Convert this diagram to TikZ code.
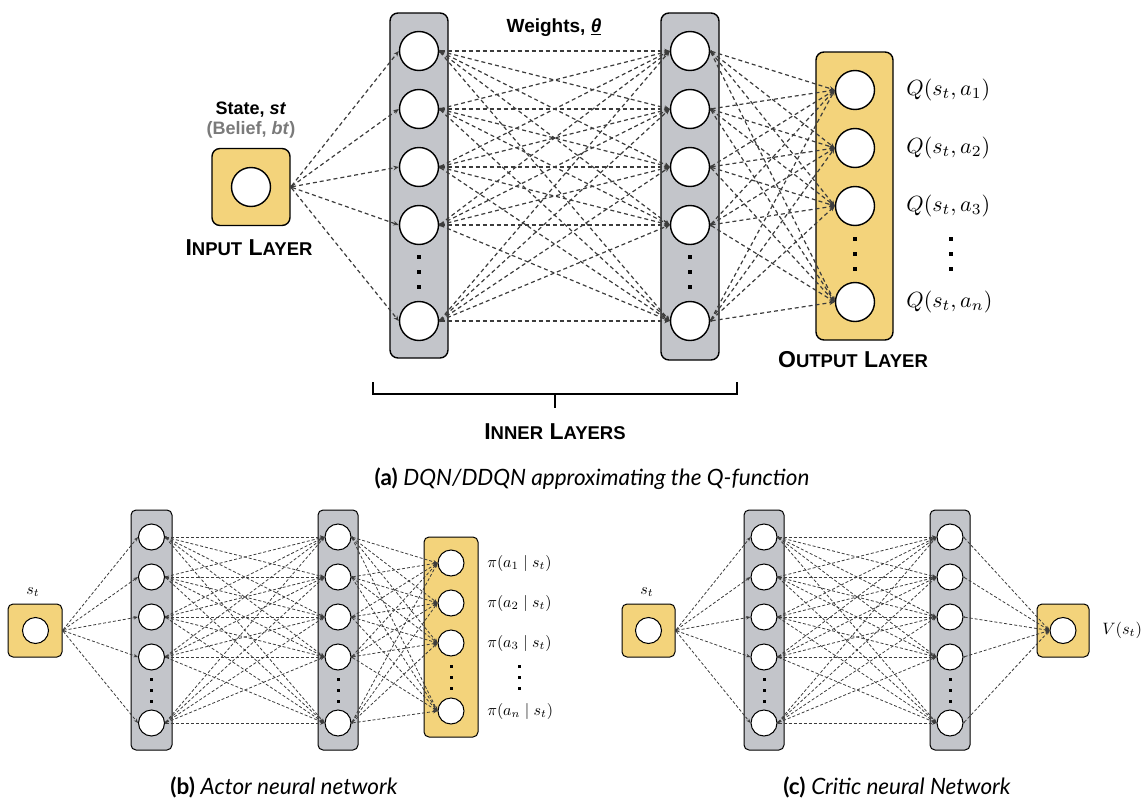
\documentclass[tikz,border=0pt]{standalone}
\usepackage{fontspec}
\setmainfont{Lato}
\newfontfamily\arialf{Liberation Sans}
\usetikzlibrary{arrows.meta}
\definecolor{gold}{HTML}{F3D37B}
\definecolor{lgray}{HTML}{C3C5CA}
\definecolor{conn}{HTML}{3C3C3C}
\definecolor{beliefgray}{HTML}{7A7A7A}
\newcommand\sck[1]{{\fontsize{18.5}{20}\selectfont #1}}
\tikzset{
 goldbox/.style={draw=black, fill=gold, line width=1.4pt, rounded corners=8pt, inner sep=0pt},
 graybox/.style={draw=black, fill=lgray, line width=1.4pt, rounded corners=8pt, inner sep=0pt},
 neuron/.style={circle, draw=black, fill=white, line width=1.4pt, inner sep=0pt, minimum size=39pt},
 sneuron/.style={circle, draw=black, fill=white, line width=1pt, inner sep=0pt, minimum size=26pt},
 sgoldbox/.style={goldbox, line width=1pt, rounded corners=5pt},
 sgraybox/.style={graybox, line width=1pt, rounded corners=5pt},
 conA/.style={draw=conn, line width=1.2pt, dash pattern=on 4pt off 3pt, {Circle[length=2pt]}-{Stealth[length=5.5pt,width=4.5pt]}},
 conB/.style={draw=conn, line width=0.8pt, dash pattern=on 3pt off 2pt, {Circle[length=1.6pt]}-{Stealth[length=4.5pt,width=3.5pt]}},
 lbl/.style={inner sep=0pt, font=\arialf\bfseries\fontsize{18}{21}\selectfont},
 captxt/.style={inner sep=0pt, font=\fontsize{22.5}{26}\selectfont},
 qlbl/.style={anchor=west, inner sep=0pt, scale=2.2},
 plbl/.style={anchor=west, inner sep=0pt, scale=1.6},
 slbl/.style={inner sep=0pt, scale=1.6},
}
\begin{document}
\begin{tikzpicture}[x=1pt,y=-1pt]
\useasboundingbox (0,0) rectangle (1144,798);

% ================= Panel (a) =================
\node[goldbox, minimum width=78pt, minimum height=77pt] (a-inbox) at (251,187) {};
\node[neuron] (a-in) at (251,187) {};
\node[graybox, minimum width=58pt, minimum height=345pt] (a-L1box) at (419,185.5) {};
\node[graybox, minimum width=58pt, minimum height=347pt] (a-L2box) at (690,186.5) {};
\node[goldbox, minimum width=77pt, minimum height=288pt] (a-outbox) at (854.5,196) {};
\foreach \y [count=\k] in {51,109,167,225,321} {
  \node[neuron] (a-L1-\k) at (419,\y) {};
  \node[neuron] (a-L2-\k) at (690,\y) {};
}
\foreach \y [count=\k] in {90,148,206,302} \node[neuron] (a-out-\k) at (855,\y) {};
\foreach \y in {257,272,287} {
  \fill (419,\y) +(-2,-2) rectangle +(2,2);
  \fill (690,\y) +(-2,-2) rectangle +(2,2);
}
\foreach \y in {239,254,269} {
  \fill (855,\y) +(-2,-2) rectangle +(2,2);
  \fill (951,\y) +(-2,-2) rectangle +(2,2);
}
\foreach \j in {1,...,5} \draw[conA] (a-inbox.east) -- (a-L1-\j.west);
\foreach \i in {1,...,5} \foreach \j in {1,...,5} \draw[conA] (a-L1-\i.east) -- (a-L2-\j.west);
\foreach \i in {1,...,5} \foreach \j in {1,...,4} \draw[conA] (a-L2-\i.east) -- (a-out-\j.west);

\node[qlbl] (a-q1) at (906,90) {$Q(s_t,a_1)$};
\node[qlbl] (a-q2) at (906,148) {$Q(s_t,a_2)$};
\node[qlbl] (a-q3) at (906,206) {$Q(s_t,a_3)$};
\node[qlbl] (a-qn) at (906,302) {$Q(s_t,a_n)$};

\node[lbl] (a-state) at (251,110) {State, \textit{st}};
\node[lbl, text=beliefgray] (a-belief) at (251,130) {(Belief, \textit{bt})};
\node[lbl, font=\arialf\bfseries\fontsize{19}{22}\selectfont] (a-weights) at (554,28) {Weights, \underline{\textit{θ}}};
\node[lbl, font=\arialf\bfseries\fontsize{23}{26}\selectfont] (a-inlbl) at (249,248) {I\sck{NPUT} L\sck{AYER}};
\node[lbl, font=\arialf\bfseries\fontsize{23}{26}\selectfont] (a-outlbl) at (853,360) {O\sck{UTPUT} L\sck{AYER}};
\node[lbl, font=\arialf\bfseries\fontsize{23}{26}\selectfont] (a-innlbl) at (555,432) {I\sck{NNER} L\sck{AYERS}};

\coordinate (br-l) at (373,382);
\coordinate (br-r) at (737,382);
\coordinate (br-m) at (555,408);
\draw[line width=1.5pt] (br-l) -- (373,394) -- (737,394) -- (br-r);
\draw[line width=1.5pt] (555,394) -- (br-m);

\node[captxt] (a-cap) at (592,479) {\textbf{(a)} \textit{DQN/DDQN approximating the Q-function}};

% ================= Panel (b) =================
\node[sgoldbox, minimum width=54pt, minimum height=53pt] (b-inbox) at (35,630.5) {};
\node[sneuron] (b-in) at (35.5,630.5) {};
\node[slbl] (b-st) at (33,592) {$s_t$};
\node[sgraybox, minimum width=41pt, minimum height=240pt] (b-L1box) at (151.5,630) {};
\node[sgraybox, minimum width=40pt, minimum height=240pt] (b-L2box) at (338,630) {};
\node[sgoldbox, minimum width=54pt, minimum height=200pt] (b-outbox) at (451,637) {};
\foreach \y [count=\k] in {537,577,617,657,723} {
  \node[sneuron] (b-L1-\k) at (151.5,\y) {};
  \node[sneuron] (b-L2-\k) at (338,\y) {};
}
\foreach \y [count=\k] in {563,603,643,711} \node[sneuron] (b-out-\k) at (451,\y) {};
\foreach \y in {679,690,701} {
  \fill (151.5,\y) +(-1.5,-1.5) rectangle +(1.5,1.5);
  \fill (338,\y) +(-1.5,-1.5) rectangle +(1.5,1.5);
}
\foreach \y in {666,677,688} {
  \fill (451,\y) +(-1.5,-1.5) rectangle +(1.5,1.5);
  \fill (519,\y) +(-1.5,-1.5) rectangle +(1.5,1.5);
}
\foreach \j in {1,...,5} \draw[conB] (b-inbox.east) -- (b-L1-\j.west);
\foreach \i in {1,...,5} \foreach \j in {1,...,5} \draw[conB] (b-L1-\i.east) -- (b-L2-\j.west);
\foreach \i in {1,...,5} \foreach \j in {1,...,4} \draw[conB] (b-L2-\i.east) -- (b-out-\j.west);
\node[plbl] (b-p1) at (487,563) {$\pi(a_1\mid s_t)$};
\node[plbl] (b-p2) at (487,603) {$\pi(a_2\mid s_t)$};
\node[plbl] (b-p3) at (487,643) {$\pi(a_3\mid s_t)$};
\node[plbl] (b-pn) at (487,711) {$\pi(a_n\mid s_t)$};
\node[captxt] (b-cap) at (284,787) {\textbf{(b)} \textit{Actor neural network}};

% ================= Panel (c) =================
\node[sgoldbox, minimum width=53pt, minimum height=53pt] (c-inbox) at (648.5,630.5) {};
\node[sneuron] (c-in) at (648.5,630.5) {};
\node[slbl] (c-st) at (647,592) {$s_t$};
\node[sgraybox, minimum width=40pt, minimum height=240pt] (c-L1box) at (764,630) {};
\node[sgraybox, minimum width=40pt, minimum height=240pt] (c-L2box) at (950,630) {};
\node[sgoldbox, minimum width=52pt, minimum height=53pt] (c-outbox) at (1063,630.5) {};
\node[sneuron] (c-out) at (1063,630.5) {};
\foreach \y [count=\k] in {537,577,617,657,723} {
  \node[sneuron] (c-L1-\k) at (764,\y) {};
  \node[sneuron] (c-L2-\k) at (950,\y) {};
}
\foreach \y in {679,690,701} {
  \fill (764,\y) +(-1.5,-1.5) rectangle +(1.5,1.5);
  \fill (950,\y) +(-1.5,-1.5) rectangle +(1.5,1.5);
}
\foreach \j in {1,...,5} \draw[conB] (c-inbox.east) -- (c-L1-\j.west);
\foreach \i in {1,...,5} \foreach \j in {1,...,5} \draw[conB] (c-L1-\i.east) -- (c-L2-\j.west);
\foreach \i in {1,...,5} \draw[conB] (c-L2-\i.east) -- (c-out.west);
\node[plbl, scale=1.03] (c-v) at (1102,630) {$V(s_t)$};
\node[captxt] (c-cap) at (897,787) {\textbf{(c)} \textit{Critic neural Network}};
\end{tikzpicture}
\end{document}
